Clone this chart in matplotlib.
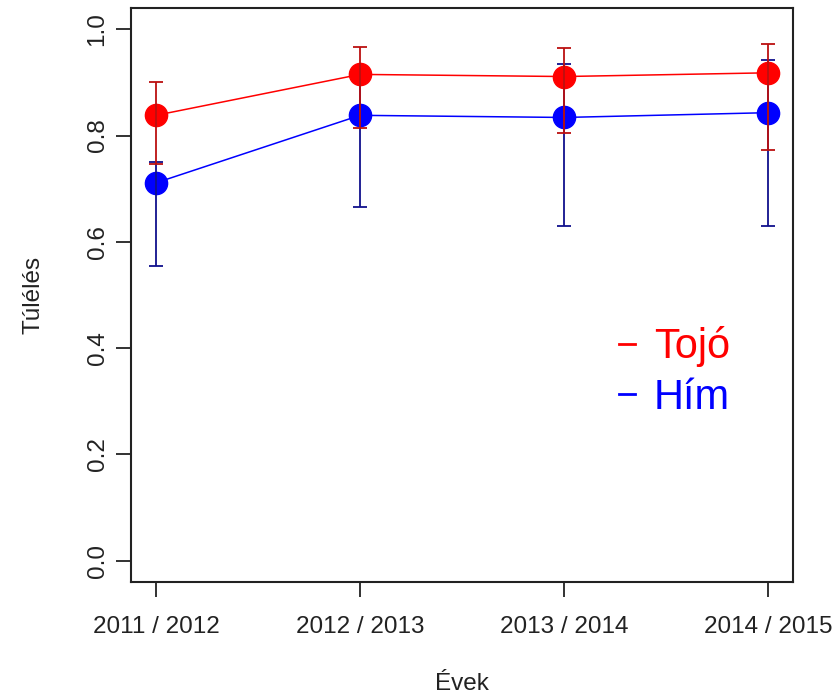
import matplotlib
matplotlib.use("Agg")
import matplotlib.pyplot as plt
from matplotlib.lines import Line2D

plt.rcParams['font.family'] = ['Liberation Sans', 'DejaVu Sans']

years = ["2011 / 2012", "2012 / 2013", "2013 / 2014", "2014 / 2015"]

# survival estimates with confidence limits
tojo = [0.838, 0.915, 0.911, 0.918]
tojo_lo = [0.747, 0.814, 0.804, 0.773]
tojo_hi = [0.901, 0.966, 0.965, 0.973]

him = [0.711, 0.838, 0.834, 0.843]
him_lo = [0.555, 0.666, 0.629, 0.629]
him_hi = [0.750, 0.920, 0.935, 0.942]

x = [1, 2, 3, 4]

fig = plt.figure(figsize=(8.39, 6.99), dpi=100)
ax = fig.add_axes([0.1567, 0.1674, 0.788, 0.8212])


def draw_series(vals, lo, hi, col, bar_col, z):
    ax.plot(x, vals, color=col, lw=1.1, zorder=z)
    ax.plot(x, vals, 'o', color=col, ms=16, mec=col, zorder=z + 1)
    err = [[v - l for v, l in zip(vals, lo)], [h - v for v, h in zip(vals, hi)]]
    ax.errorbar(x, vals, yerr=err, fmt='none', ecolor=bar_col, elinewidth=1.3,
                capsize=5, capthick=1.3, zorder=z + 2)


draw_series(him, him_lo, him_hi, '#0000ff', '#10108c', 2)
draw_series(tojo, tojo_lo, tojo_hi, '#ff0000', '#bb1010', 6)

ax.set_xlim(0.88, 4.12)
ax.set_ylim(-0.04, 1.04)
ax.set_xticks(x)
ax.set_xticklabels(years)
ax.set_yticks([0.0, 0.2, 0.4, 0.6, 0.8, 1.0])
ax.set_yticklabels(["0.0", "0.2", "0.4", "0.6", "0.8", "1.0"], rotation=90, va='center')

ax.tick_params(axis='both', labelsize=17.5, length=10.5, width=1.3, colors='#222222')
ax.tick_params(axis='x', pad=14)
ax.tick_params(axis='y', pad=6)
for s in ax.spines.values():
    s.set_linewidth(1.5)
    s.set_color('#222222')

ax.set_xlabel("Évek", fontsize=17.5, labelpad=25, color='#222222')
ax.set_ylabel("Túlélés", fontsize=17.5, labelpad=30, color='#222222')

handles = [Line2D([0], [0], color='#ff0000', lw=2),
           Line2D([0], [0], color='#0000ff', lw=2)]
ax.legend(handles, ["Tojó", "Hím"], loc='center left', bbox_to_anchor=(0.68, 0.366),
          frameon=False, fontsize=30, handlelength=0.4, handletextpad=0.45,
          labelspacing=0.25, labelcolor=['#ff0000', '#0000ff'])

fig.savefig("out.png", dpi=100)
